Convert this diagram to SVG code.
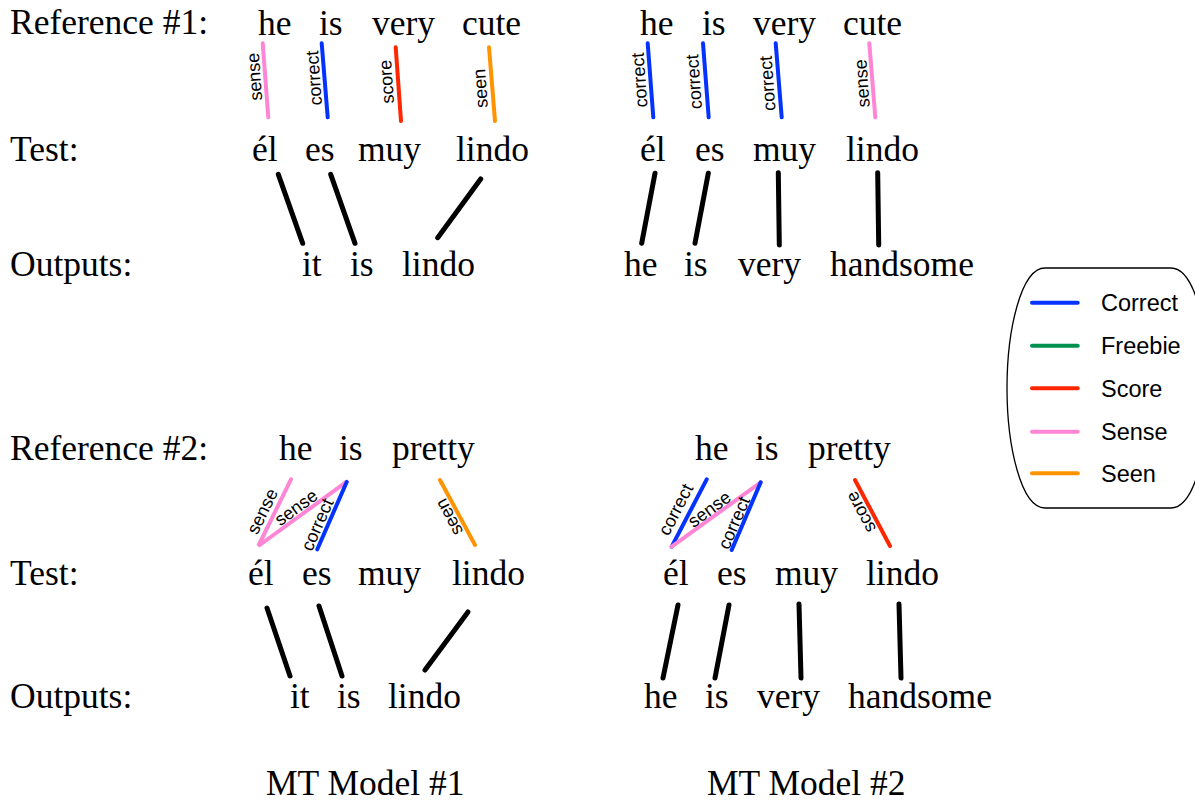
<svg xmlns="http://www.w3.org/2000/svg" width="1195" height="804" viewBox="0 0 1195 804">
<style>
.w{font-family:"Liberation Serif","Times New Roman",serif;font-size:35.5px;fill:#000}
.l{font-family:"Liberation Sans",Arial,sans-serif;font-size:18px;fill:#000;text-anchor:middle}
.g{font-family:"Liberation Sans",Arial,sans-serif;font-size:23.5px;fill:#000}
.k{stroke:#000;stroke-width:5;stroke-linecap:round;fill:none}
.c{stroke-width:4;stroke-linecap:round;fill:none}
.blue{stroke:#0433ff}.green{stroke:#00914f}.red{stroke:#ff2600}.pink{stroke:#ff85d5}.orange{stroke:#ff9300}
</style>
<rect width="1195" height="804" fill="#fff"/>
<g id="row-labels">
<text class="w" x="10" y="34">Reference #1:</text>
<text class="w" x="10" y="161">Test:</text>
<text class="w" x="10" y="276">Outputs:</text>
<text class="w" x="10" y="460">Reference #2:</text>
<text class="w" x="10" y="585">Test:</text>
<text class="w" x="10" y="708">Outputs:</text>
</g>
<g id="words-m1-r1">
<text class="w" x="258" y="35">he</text><text class="w" x="319" y="35">is</text><text class="w" x="372" y="35">very</text><text class="w" x="462" y="35">cute</text>
<text class="w" x="252" y="161">él</text><text class="w" x="305" y="161">es</text><text class="w" x="358" y="161">muy</text><text class="w" x="456" y="161">lindo</text>
<text class="w" x="302" y="276">it</text><text class="w" x="350" y="276">is</text><text class="w" x="402" y="276">lindo</text>
</g>
<g id="words-m2-r1">
<text class="w" x="640" y="35">he</text><text class="w" x="702" y="35">is</text><text class="w" x="753" y="35">very</text><text class="w" x="843" y="35">cute</text>
<text class="w" x="640" y="161">él</text><text class="w" x="695" y="161">es</text><text class="w" x="753" y="161">muy</text><text class="w" x="846" y="161">lindo</text>
<text class="w" x="624" y="276">he</text><text class="w" x="684" y="276">is</text><text class="w" x="738" y="276">very</text><text class="w" x="830" y="276">handsome</text>
</g>
<g id="words-m1-r2">
<text class="w" x="279" y="460">he</text><text class="w" x="339" y="460">is</text><text class="w" x="392" y="460">pretty</text>
<text class="w" x="248" y="585">él</text><text class="w" x="302" y="585">es</text><text class="w" x="358" y="585">muy</text><text class="w" x="452" y="585">lindo</text>
<text class="w" x="290" y="708">it</text><text class="w" x="337" y="708">is</text><text class="w" x="388" y="708">lindo</text>
</g>
<g id="words-m2-r2">
<text class="w" x="695" y="460">he</text><text class="w" x="755" y="460">is</text><text class="w" x="808" y="460">pretty</text>
<text class="w" x="663" y="585">él</text><text class="w" x="717" y="585">es</text><text class="w" x="775" y="585">muy</text><text class="w" x="866" y="585">lindo</text>
<text class="w" x="644" y="708">he</text><text class="w" x="705" y="708">is</text><text class="w" x="757" y="708">very</text><text class="w" x="848" y="708">handsome</text>
</g>
<g id="captions">
<text class="w" x="266" y="795">MT Model #1</text>
<text class="w" x="707" y="795">MT Model #2</text>
</g>
<g id="connectors">
<line class="c pink" x1="262.7" y1="43.3" x2="268.3" y2="117.3"/>
<line class="c blue" x1="321.7" y1="43.3" x2="327.7" y2="117.3"/>
<line class="c red" x1="395.7" y1="47.3" x2="401" y2="121"/>
<line class="c orange" x1="489" y1="47.3" x2="495" y2="121"/>
<line class="c blue" x1="647.7" y1="43.3" x2="653.3" y2="117.3"/>
<line class="c blue" x1="703" y1="43.3" x2="708.7" y2="117.3"/>
<line class="c blue" x1="775.7" y1="43.3" x2="781.7" y2="117.3"/>
<line class="c pink" x1="869.3" y1="43.3" x2="875.3" y2="117.3"/>
<line class="k" x1="278.3" y1="174.3" x2="302.7" y2="243.3"/>
<line class="k" x1="330.7" y1="174.3" x2="355" y2="243.3"/>
<line class="k" x1="480.7" y1="179" x2="437.7" y2="237.7"/>
<line class="k" x1="655" y1="173.3" x2="641.7" y2="243.3"/>
<line class="k" x1="708.3" y1="173.3" x2="695" y2="243.3"/>
<line class="k" x1="778.3" y1="172.7" x2="779.3" y2="245"/>
<line class="k" x1="877.7" y1="172.7" x2="878.7" y2="245"/>
<polyline class="c pink" points="291,479.3 258.3,546 346.7,481.7"/>
<line class="c blue" x1="346.7" y1="482" x2="317.3" y2="549.3"/>
<line class="c orange" x1="440" y1="480" x2="475" y2="545"/>
<line class="c blue" x1="706.7" y1="479.3" x2="671.7" y2="546.7"/>
<line class="c pink" x1="671.7" y1="546.7" x2="760.7" y2="482.3"/>
<line class="c blue" x1="760.7" y1="482.3" x2="731.7" y2="550"/>
<line class="c red" x1="855" y1="480" x2="890" y2="546"/>
<line class="k" x1="267" y1="608" x2="290" y2="676"/>
<line class="k" x1="319" y1="606" x2="342" y2="676"/>
<line class="k" x1="468" y1="612" x2="425" y2="670"/>
<line class="k" x1="678" y1="605" x2="663" y2="678"/>
<line class="k" x1="729" y1="605" x2="715" y2="678"/>
<line class="k" x1="799" y1="604" x2="801" y2="678"/>
<line class="k" x1="899" y1="604" x2="901" y2="678"/>
</g>
<g id="connector-labels">
<text class="l" transform="translate(256,76.7) rotate(-94)" y="4.5">sense</text>
<text class="l" transform="translate(315.5,78) rotate(-94)" y="4.5">correct</text>
<text class="l" transform="translate(388,81.7) rotate(-94)" y="4.5">score</text>
<text class="l" transform="translate(482,88.3) rotate(-94)" y="4.5">seen</text>
<text class="l" transform="translate(641,80) rotate(-94)" y="4.5">correct</text>
<text class="l" transform="translate(695.5,81.7) rotate(-94)" y="4.5">correct</text>
<text class="l" transform="translate(769,83.3) rotate(-94)" y="4.5">correct</text>
<text class="l" transform="translate(863.5,83.3) rotate(-94)" y="4.5">sense</text>
<text class="l" transform="translate(263.3,511.7) rotate(-64)" y="5">sense</text>
<text class="l" transform="translate(296.7,508.3) rotate(-36)" y="5">sense</text>
<text class="l" transform="translate(318.3,525) rotate(-66)" y="5">correct</text>
<text class="l" transform="translate(450,516.7) rotate(-118)" y="5">seen</text>
<text class="l" transform="translate(676.7,510) rotate(-62.6)" y="5">correct</text>
<text class="l" transform="translate(710,510) rotate(-36)" y="5">sense</text>
<text class="l" transform="translate(735,523.3) rotate(-66.8)" y="5">correct</text>
<text class="l" transform="translate(861.7,511.7) rotate(-118)" y="5">score</text>
</g>
<g id="legend">
<path d="M1045,268 L1171,268 C1195,268 1209,330 1209,388 C1209,446 1195,508 1171,508 L1045,508 C1021,508 1007,446 1007,388 C1007,330 1021,268 1045,268 Z" fill="none" stroke="#000" stroke-width="1.3"/>
<line class="c blue" x1="1032" y1="302.7" x2="1077.7" y2="302.7"/>
<line class="c green" x1="1032" y1="345.7" x2="1077.7" y2="345.7"/>
<line class="c red" x1="1032" y1="388.3" x2="1077.7" y2="388.3"/>
<line class="c pink" x1="1032" y1="431.7" x2="1077.7" y2="431.7"/>
<line class="c orange" x1="1032" y1="473.3" x2="1077.7" y2="473.3"/>
<text class="g" x="1101" y="311">Correct</text>
<text class="g" x="1101" y="354">Freebie</text>
<text class="g" x="1101" y="396.5">Score</text>
<text class="g" x="1101" y="440">Sense</text>
<text class="g" x="1101" y="481.5">Seen</text>
</g>
</svg>
